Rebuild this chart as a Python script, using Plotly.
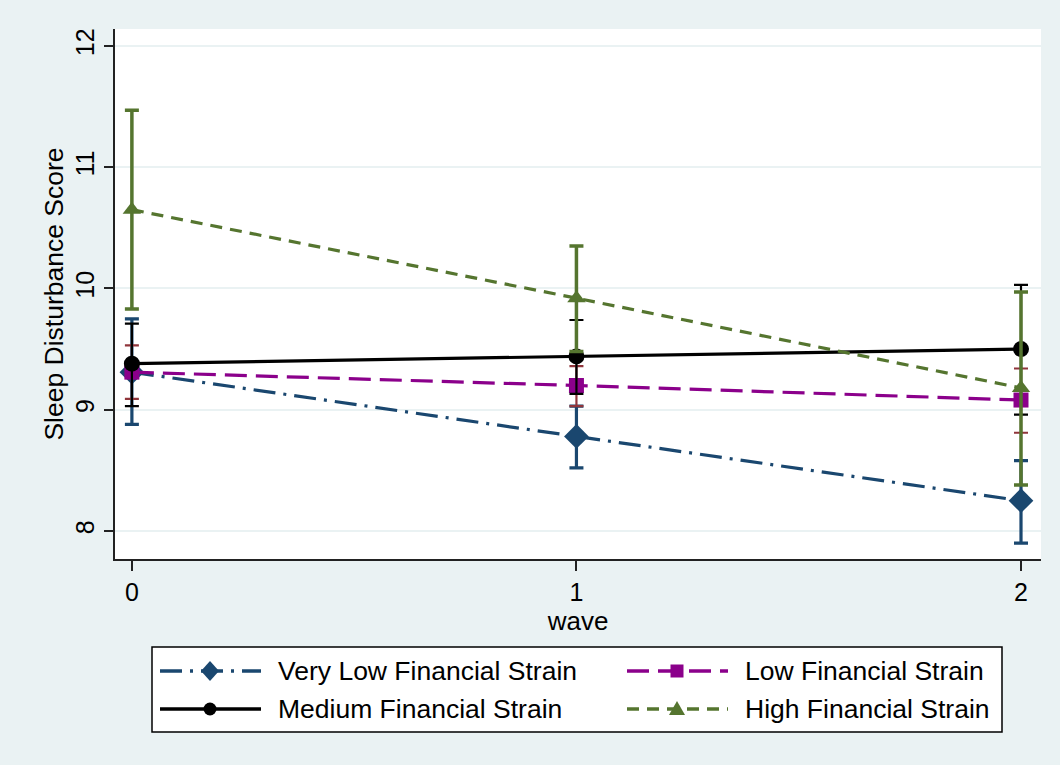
import plotly.graph_objects as go

waves = [0, 1, 2]
series_names = ["Very Low Financial Strain", "Low Financial Strain",
                "Medium Financial Strain", "High Financial Strain"]

vlow_mean = [9.31, 8.78, 8.25]
vlow_hi = [9.75, 9.03, 8.58]
vlow_lo = [8.88, 8.52, 7.90]

low_mean = [9.31, 9.20, 9.08]
low_hi = [9.53, 9.36, 9.34]
low_lo = [9.09, 9.03, 8.81]

med_mean = [9.38, 9.44, 9.50]
med_hi = [9.71, 9.74, 10.03]
med_lo = [9.03, 9.13, 8.96]

high_mean = [10.65, 9.92, 9.18]
high_hi = [11.47, 10.35, 9.97]
high_lo = [9.83, 9.48, 8.38]

y_ticks = [8, 9, 10, 11, 12]
x_ticks = [0, 1, 2]

BG = "#EAF2F3"
FONT = "Liberation Sans, Arial, sans-serif"
W, H = 1060, 765
ML, MR, MT, MB = 115, 19, 29, 206
PW, PH = W - ML - MR, H - MT - MB


def px_x(px):
    return (px - ML) / PW


def px_y(py):
    return (H - MB - py) / PH


styles = [
    dict(color="#1A476F", ci="#1A476F", dash="22px,8px,3px,8px", symbol="diamond", size=19, ciw=3.2),
    dict(color="#8B008B", ci="#90353B", dash="22px,9px", symbol="square", size=15, ciw=2.2),
    dict(color="#000000", ci="#000000", dash="solid", symbol="circle", size=16, ciw=2.2),
    dict(color="#55752F", ci="#55752F", dash="12px,8px", symbol="triangle-up", size=16, ciw=3.5),
]
data = [
    (vlow_mean, vlow_hi, vlow_lo),
    (low_mean, low_hi, low_lo),
    (med_mean, med_hi, med_lo),
    (high_mean, high_hi, high_lo),
]

fig = go.Figure()
for name, st, (m, hi, lo) in zip(series_names, styles, data):
    fig.add_trace(go.Scatter(
        x=waves, y=m, name=name, mode="lines+markers",
        line=dict(color=st["color"], width=3.2, dash=st["dash"]),
        marker=dict(symbol=st["symbol"], size=st["size"], color=st["color"]),
        error_y=dict(type="data", symmetric=False,
                     array=[h - v for h, v in zip(hi, m)],
                     arrayminus=[v - l for v, l in zip(m, lo)],
                     color=st["ci"], thickness=st["ciw"], width=7),
    ))

# ---- hand-built legend (shapes + annotations in paper coordinates) ----
shapes = [dict(type="rect", xref="paper", yref="paper",
               x0=px_x(152), x1=px_x(1002), y0=px_y(732), y1=px_y(647),
               fillcolor="white", line=dict(color="black", width=1.5), layer="above")]
annotations = []
slots = [(160, 671), (627, 671), (160, 709), (627, 709)]
marker_paths = {
    "diamond": "M0,-10 L9,0 L0,10 L-9,0 Z",
    "square": "M-6.5,-6.5 L6.5,-6.5 L6.5,6.5 L-6.5,6.5 Z",
    "triangle-up": "M0,8 L8,-6 L-8,-6 Z",
}
for name, st, (sx, sy) in zip(series_names, styles, slots):
    shapes.append(dict(type="line", xref="paper", yref="paper",
                       x0=px_x(sx), x1=px_x(sx + 101), y0=px_y(sy), y1=px_y(sy),
                       line=dict(color=st["color"], width=3.5, dash=st["dash"]), layer="above"))
    cx, cy = px_x(sx + 50), px_y(sy)
    if st["symbol"] == "circle":
        shapes.append(dict(type="circle", xref="paper", yref="paper",
                           xsizemode="pixel", ysizemode="pixel", xanchor=cx, yanchor=cy,
                           x0=-6.5, x1=6.5, y0=-6.5, y1=6.5,
                           fillcolor=st["color"], line=dict(width=0), layer="above"))
    else:
        shapes.append(dict(type="path", xref="paper", yref="paper",
                           xsizemode="pixel", ysizemode="pixel", xanchor=cx, yanchor=cy,
                           path=marker_paths[st["symbol"]],
                           fillcolor=st["color"], line=dict(width=0), layer="above"))
    annotations.append(dict(xref="paper", yref="paper", x=px_x(sx + 116), y=px_y(sy),
                            xanchor="left", yanchor="middle", showarrow=False,
                            text=name, font=dict(size=26.5, color="black")))

fig.update_layout(
    width=W, height=H,
    paper_bgcolor=BG, plot_bgcolor="white",
    margin=dict(l=ML, r=MR, t=MT, b=MB),
    font=dict(family=FONT, size=25, color="black"),
    showlegend=False,
    shapes=shapes,
    annotations=annotations,
)
fig.update_xaxes(
    range=[-0.038, 2.045], tickvals=x_ticks, showgrid=False, zeroline=False,
    showline=True, linecolor="#222", linewidth=2,
    ticks="outside", ticklen=10, tickcolor="#222", tickwidth=1.5,
    tickfont=dict(size=25),
    title=dict(text="wave", font=dict(size=26), standoff=4),
)
fig.update_yaxes(
    range=[7.769, 12.14], tickvals=y_ticks, showgrid=True, gridcolor=BG, gridwidth=2,
    zeroline=False, showline=True, linecolor="#222", linewidth=2,
    ticks="outside", ticklen=9, tickcolor="#222", tickwidth=1.5,
    tickangle=-90, tickfont=dict(size=25),
    title=dict(text="Sleep Disturbance Score", font=dict(size=26.5), standoff=0),
)

fig.write_html("out.html")
